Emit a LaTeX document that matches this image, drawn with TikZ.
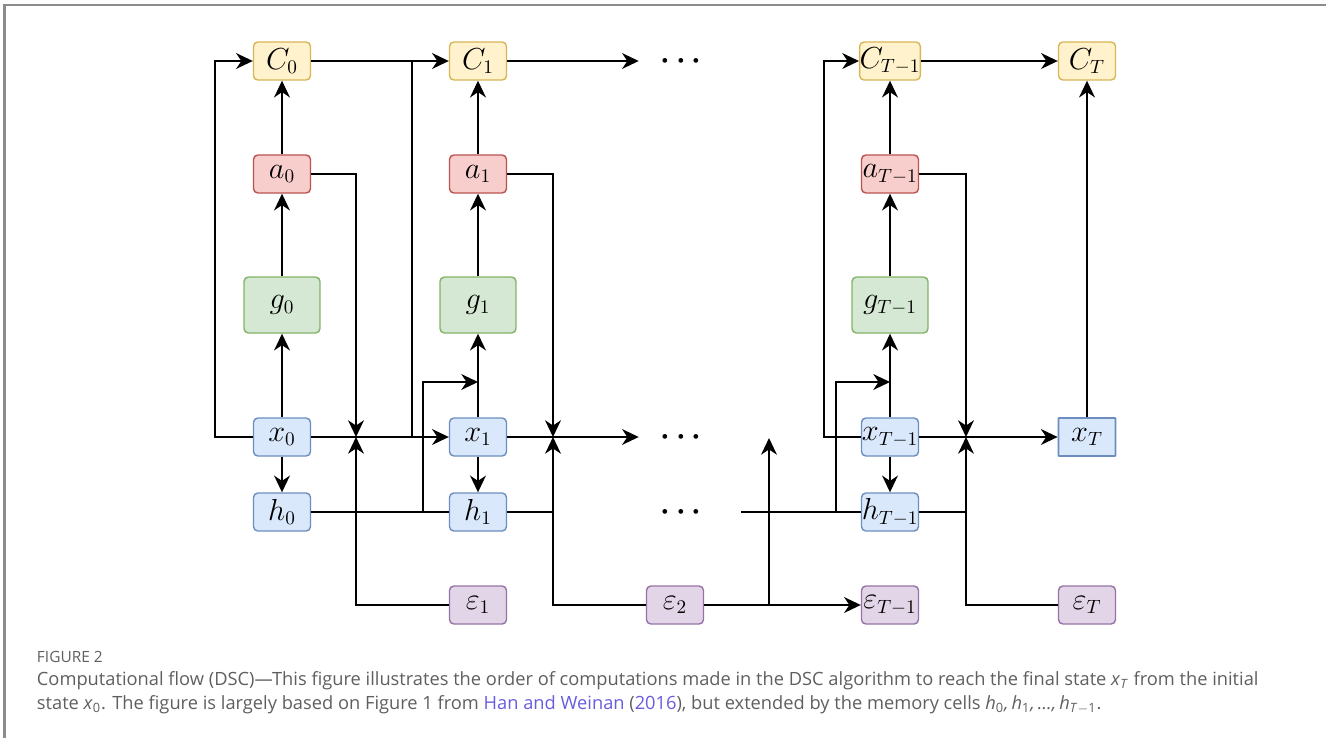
\documentclass[tikz,border=0pt]{standalone}
\usepackage{amsmath}
\usepackage{fontspec}
\setsansfont{Open Sans}
\usepackage{tikz}
\usetikzlibrary{arrows.meta,positioning}

\definecolor{costfill}{HTML}{FFF2CC}
\definecolor{costline}{HTML}{D6B656}
\definecolor{actfill}{HTML}{F8CECC}
\definecolor{actline}{HTML}{B85450}
\definecolor{netfill}{HTML}{D5E8D4}
\definecolor{netline}{HTML}{82B366}
\definecolor{statefill}{HTML}{DAE8FC}
\definecolor{stateline}{HTML}{6C8EBF}
\definecolor{noisefill}{HTML}{E1D5E7}
\definecolor{noiseline}{HTML}{9673A6}
\definecolor{captext}{RGB}{95,95,95}
\definecolor{linkblue}{RGB}{104,92,222}
\definecolor{framegray}{RGB}{140,140,140}

\begin{document}
\begin{tikzpicture}[x=0.02cm,y=-0.02cm,line width=1.1pt,
    >={Stealth[length=9.5pt,width=9pt,inset=3pt]}]
    \tikzstyle{cell}=[draw,rounded corners=2.5pt,minimum width=1.14cm,minimum height=0.76cm,inner sep=0pt,line width=0.8pt,font=\fontsize{16}{18}\selectfont]
    \tikzstyle{cost}=[cell,fill=costfill,draw=costline]
    \tikzstyle{act}=[cell,fill=actfill,draw=actline]
    \tikzstyle{net}=[cell,fill=netfill,draw=netline,minimum width=1.52cm,minimum height=1.12cm]
    \tikzstyle{state}=[cell,fill=statefill,draw=stateline]
    \tikzstyle{noise}=[cell,fill=noisefill,draw=noiseline]
    \tikzstyle{dots}=[inner sep=0pt,font=\fontsize{16}{18}\selectfont\boldmath]
    \tikzstyle{capline}=[anchor=west,inner sep=0pt,text=captext,font=\sffamily\fontsize{10.4}{12}\selectfont]

\useasboundingbox (0,0) rectangle (1326,738);
\draw[framegray,line width=1.2pt] (4.5,738) -- (4.5,5) -- (1326,5);

% step 0
\node[cost] (C0) at (282,61) {$C_0$};
\node[act] (a0) at (282,174) {$a_0$};
\node[net] (g0) at (282,305) {$g_0$};
\node[state] (x0) at (282,437) {$x_0$};
\node[state] (h0) at (282,512) {$h_0$};

% step 1
\node[cost] (C1) at (478,61) {$C_1$};
\node[act] (a1) at (478,174) {$a_1$};
\node[net] (g1) at (478,305) {$g_1$};
\node[state] (x1) at (478,437) {$x_1$};
\node[state] (h1) at (478,512) {$h_1$};
\node[noise] (e1) at (478,605) {$\varepsilon_1$};
\node[noise] (e2) at (675,605) {$\varepsilon_2$};

% dots
\node[dots] (dtop) at (684,61) {$\cdots$};
\node[dots] (dmid) at (684,437) {$\cdots$};
\node[dots] (dlow) at (684,512) {$\cdots$};

% step T-1
\node[cost] (CT1) at (890,61) {$C_{T-1}$};
\node[act] (aT1) at (890,174) {$a_{T-1}$};
\node[net] (gT1) at (890,305) {$g_{T-1}$};
\node[state] (xT1) at (890,437) {$x_{T-1}$};
\node[state] (hT1) at (890,512) {$h_{T-1}$};
\node[noise] (eT1) at (890,605) {$\varepsilon_{T-1}$};

% step T
\node[cost] (CT) at (1087,61) {$C_T$};
\node[state,rounded corners=0.4pt,line width=1pt] (xT) at (1087,437) {$x_T$};
\node[noise] (eT) at (1087,605) {$\varepsilon_T$};

% junctions
\coordinate (j0) at (356,437);
\coordinate (j1) at (553,437);
\coordinate (jT) at (966,437);
\coordinate (in1) at (478,382);
\coordinate (inT) at (890,382);
\coordinate (up2) at (769,438);
\coordinate (hin) at (741,512);

% step 0 edges
\draw[->] (x0) -- (g0);
\draw[->] (g0) -- (a0);
\draw[->] (a0) -- (C0);
\draw[->] (x0) -- (h0);
\draw[->] (x0.west) -- (215,437) |- (C0.west);
\draw[->] (a0.east) -| (j0);
\draw[->] (e1.west) -| (j0);
\draw[->] (x0) -- (x1);
\draw (412,437) -- (412,61);
\draw[->] (C0) -- (C1);
\draw (h0) -- (h1);
\draw[->] (423,512) |- (in1);

% step 1 edges
\draw[->] (x1) -- (g1);
\draw[->] (g1) -- (a1);
\draw[->] (a1) -- (C1);
\draw[->] (x1) -- (h1);
\draw[->] (a1.east) -| (j1);
\draw (h1.east) -- (553,512);
\draw[->] (e2.west) -| (j1);
\draw[->] (x1) -- ([xshift=-0.42cm]dmid.west);
\draw[->] (C1) -- ([xshift=-0.42cm]dtop.west);
\draw[->] (e2) -- (eT1);
\draw[->] (769,605) -- (up2);
\draw (hin) -- (hT1);

% step T-1 edges
\draw[->] (xT1) -- (gT1);
\draw[->] (gT1) -- (aT1);
\draw[->] (aT1) -- (CT1);
\draw[->] (xT1) -- (hT1);
\draw[->] (xT1.west) -- (824,437) |- (CT1.west);
\draw[->] (836,512) |- (inT);
\draw[->] (aT1.east) -| (jT);
\draw (hT1.east) -- (966,512);
\draw[->] (eT.west) -| (jT);
\draw[->] (xT1) -- (xT);
\draw[->] (CT1) -- (CT);
\draw[->] (xT) -- (CT);

% caption
\node[capline,font=\sffamily\fontsize{8.8}{10}\selectfont] (fig) at (36,657) {FIGURE 2};
\node[capline] (cap1) at (36,681) {Computational flow (DSC)---This figure illustrates the order of computations made in the DSC algorithm to reach the final state \textit{x}\textsubscript{\textit{T}} from the initial};
\node[capline] (cap2) at (36,705) {state \textit{x}\textsubscript{0}. The figure is largely based on Figure 1 from \textcolor{linkblue}{Han and Weinan} (\textcolor{linkblue}{2016}), but extended by the memory cells \textit{h}\textsubscript{0}\textit{,\,h}\textsubscript{1}\textit{,\,\dots,\,h}\textsubscript{\textit{T}$-$1}.};
\end{tikzpicture}
\end{document}
